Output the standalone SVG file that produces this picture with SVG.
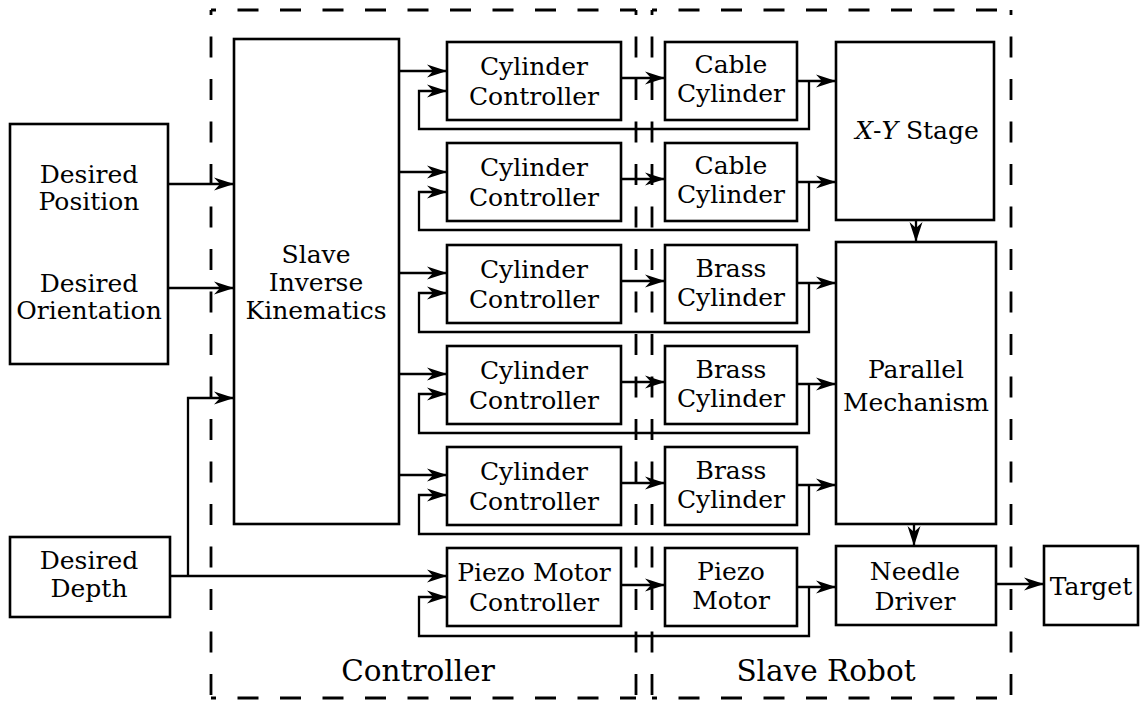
<svg xmlns="http://www.w3.org/2000/svg" width="1141" height="702" viewBox="0 0 1141 702">
<style>
.box{fill:none;stroke:#000;stroke-width:2.6}
.t{font-size:25px;text-anchor:middle;fill:#000}
.big{font-size:29.5px}
.c{fill:none;stroke:#000;stroke-width:2.3}
.dash{fill:none;stroke:#000;stroke-width:2.8;stroke-dasharray:21 21.5;stroke-dashoffset:16}
</style>
<defs>
<marker id="arr" markerUnits="userSpaceOnUse" markerWidth="22" markerHeight="16" viewBox="0 0 22 16" refX="20" refY="8" orient="auto" overflow="visible">
<path d="M20,8 L0,1.5 L6,8 L0,14.5 Z" fill="#000"/>
</marker>
</defs>
<rect width="1141" height="702" fill="#fff"/>
<g font-family="'DejaVu Serif', 'Liberation Serif', serif">
<g id="region-controller">
<path class="dash" d="M211,10 H636"/>
<path class="dash" d="M211,10 V698"/>
<path class="dash" d="M211,698 H636"/>
<path class="dash" d="M636,10 V698"/>
<text class="t big" x="418" y="681">Controller</text>
</g>
<g id="region-slave">
<path class="dash" d="M652,10 H1011"/>
<path class="dash" d="M652,10 V698"/>
<path class="dash" d="M652,698 H1011"/>
<path class="dash" d="M1011,10 V698"/>
<text class="t big" x="826" y="681">Slave Robot</text>
</g>

<g id="desired-pos-orient">
<rect class="box" x="10" y="124" width="158" height="240"/>
<text class="t" x="89" y="183">Desired</text>
<text class="t" x="89" y="210">Position</text>
<text class="t" x="89" y="292">Desired</text>
<text class="t" x="89" y="319">Orientation</text>
</g>
<g id="desired-depth">
<rect class="box" x="10" y="537" width="160" height="80"/>
<text class="t" x="89" y="569">Desired</text>
<text class="t" x="89" y="597">Depth</text>
</g>
<g id="ik">
<rect class="box" x="234" y="39" width="165" height="485"/>
<text class="t" x="316" y="263">Slave</text>
<text class="t" x="316" y="291">Inverse</text>
<text class="t" x="316" y="319">Kinematics</text>
</g>

<g id="ctrl1"><rect class="box" x="447" y="42" width="174" height="78"/><text class="t" x="534" y="75">Cylinder</text><text class="t" x="534" y="105">Controller</text></g>
<g id="ctrl2"><rect class="box" x="447" y="143" width="174" height="78"/><text class="t" x="534" y="176">Cylinder</text><text class="t" x="534" y="206">Controller</text></g>
<g id="ctrl3"><rect class="box" x="447" y="245" width="174" height="78"/><text class="t" x="534" y="278">Cylinder</text><text class="t" x="534" y="308">Controller</text></g>
<g id="ctrl4"><rect class="box" x="447" y="346" width="174" height="78"/><text class="t" x="534" y="379">Cylinder</text><text class="t" x="534" y="409">Controller</text></g>
<g id="ctrl5"><rect class="box" x="447" y="447" width="174" height="78"/><text class="t" x="534" y="480">Cylinder</text><text class="t" x="534" y="510">Controller</text></g>
<g id="piezo-ctrl"><rect class="box" x="447" y="548" width="174" height="78"/><text class="t" x="534" y="581">Piezo Motor</text><text class="t" x="534" y="611">Controller</text></g>

<g id="cyl1"><rect class="box" x="665" y="42" width="132" height="78"/><text class="t" x="731" y="73">Cable</text><text class="t" x="731" y="102">Cylinder</text></g>
<g id="cyl2"><rect class="box" x="665" y="143" width="132" height="78"/><text class="t" x="731" y="174">Cable</text><text class="t" x="731" y="203">Cylinder</text></g>
<g id="cyl3"><rect class="box" x="665" y="245" width="132" height="78"/><text class="t" x="731" y="277">Brass</text><text class="t" x="731" y="306">Cylinder</text></g>
<g id="cyl4"><rect class="box" x="665" y="346" width="132" height="78"/><text class="t" x="731" y="378">Brass</text><text class="t" x="731" y="407">Cylinder</text></g>
<g id="cyl5"><rect class="box" x="665" y="447" width="132" height="78"/><text class="t" x="731" y="479">Brass</text><text class="t" x="731" y="508">Cylinder</text></g>
<g id="piezo-motor"><rect class="box" x="665" y="548" width="132" height="78"/><text class="t" x="731" y="580">Piezo</text><text class="t" x="731" y="609">Motor</text></g>

<g id="xy-stage"><rect class="box" x="836" y="42" width="158" height="178"/><text class="t" x="917" y="139"><tspan font-style="italic">X</tspan>-<tspan font-style="italic">Y</tspan> Stage</text></g>
<g id="parallel"><rect class="box" x="836" y="242" width="160" height="282"/><text class="t" x="916" y="378">Parallel</text><text class="t" x="916" y="411">Mechanism</text></g>
<g id="needle"><rect class="box" x="836" y="546" width="160" height="79"/><text class="t" x="915" y="580">Needle</text><text class="t" x="915" y="610">Driver</text></g>
<g id="target"><rect class="box" x="1044" y="546" width="94" height="79"/><text class="t" x="1091" y="595">Target</text></g>
</g>
<g id="connectors">
<path class="c" d="M168,184 H234" marker-end="url(#arr)"/>
<path class="c" d="M168,288 H234" marker-end="url(#arr)"/>
<path class="c" d="M170,576 H447" marker-end="url(#arr)"/>
<path class="c" d="M188,576 V398 H234" marker-end="url(#arr)"/>

<path class="c" d="M399,71 H447" marker-end="url(#arr)"/>
<path class="c" d="M621,78 H665" marker-end="url(#arr)"/>
<path class="c" d="M797,81 H836" marker-end="url(#arr)"/>
<path class="c" d="M809,81 V129 H419 V91 H447" marker-end="url(#arr)"/>

<path class="c" d="M399,172 H447" marker-end="url(#arr)"/>
<path class="c" d="M621,179 H665" marker-end="url(#arr)"/>
<path class="c" d="M797,182 H836" marker-end="url(#arr)"/>
<path class="c" d="M809,182 V230 H419 V192 H447" marker-end="url(#arr)"/>

<path class="c" d="M399,273 H447" marker-end="url(#arr)"/>
<path class="c" d="M621,281 H665" marker-end="url(#arr)"/>
<path class="c" d="M797,283 H836" marker-end="url(#arr)"/>
<path class="c" d="M809,283 V332 H419 V293 H447" marker-end="url(#arr)"/>

<path class="c" d="M399,374 H447" marker-end="url(#arr)"/>
<path class="c" d="M621,382 H665" marker-end="url(#arr)"/>
<path class="c" d="M797,384 H836" marker-end="url(#arr)"/>
<path class="c" d="M809,384 V433 H419 V394 H447" marker-end="url(#arr)"/>

<path class="c" d="M399,475 H447" marker-end="url(#arr)"/>
<path class="c" d="M621,483 H665" marker-end="url(#arr)"/>
<path class="c" d="M797,485 H836" marker-end="url(#arr)"/>
<path class="c" d="M809,485 V534 H419 V495 H447" marker-end="url(#arr)"/>

<path class="c" d="M621,585 H665" marker-end="url(#arr)"/>
<path class="c" d="M797,587 H836" marker-end="url(#arr)"/>
<path class="c" d="M809,587 V636 H419 V597 H447" marker-end="url(#arr)"/>

<path class="c" d="M916,220 V242" marker-end="url(#arr)"/>
<path class="c" d="M914,524 V546" marker-end="url(#arr)"/>
<path class="c" d="M996,584 H1044" marker-end="url(#arr)"/>
</g>
</svg>
